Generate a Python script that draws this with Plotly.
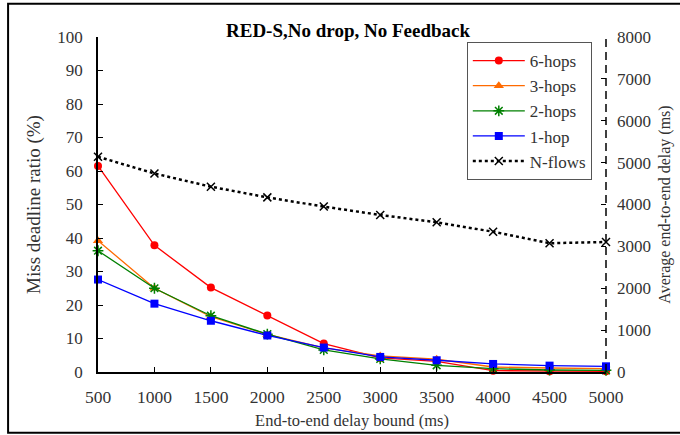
import plotly.graph_objects as go

# Delay bound (ms) on the x axis
delay_bound = [500, 1000, 1500, 2000, 2500, 3000, 3500, 4000, 4500, 5000]

# Miss deadline ratio (%) per hop count
hops6 = [61.5, 37.8, 25.2, 16.9, 8.5, 4.2, 3.2, 0.4, 0.2, 0.2]
hops3 = [39.2, 25.0, 16.5, 11.2, 7.2, 4.8, 3.8, 1.5, 1.2, 1.0]
hops2 = [36.2, 25.0, 16.8, 11.3, 6.6, 3.9, 2.0, 1.0, 0.6, 0.5]
hop1 = [27.6, 20.4, 15.3, 10.9, 7.3, 4.5, 3.5, 2.4, 1.9, 1.7]

# Average end-to-end delay (ms) for N flows, right axis
nflows = [5140, 4740, 4425, 4170, 3950, 3750, 3575, 3350, 3075, 3105]

left_ticks = list(range(0, 101, 10))
right_ticks = list(range(0, 8001, 1000))

FONT = "Liberation Serif, DejaVu Serif, serif"

fig = go.Figure()

series = [
    ("6-hops", hops6, "#FF0000", dict(symbol="circle", size=8)),
    ("3-hops", hops3, "#FF6A00", dict(symbol="triangle-up", size=9)),
    ("2-hops", hops2, "#008000", dict(symbol="asterisk-open", size=9,
                                      line=dict(width=1.5, color="#008000"))),
    ("1-hop", hop1, "#0000FF", dict(symbol="square", size=8)),
]
for name, vals, color, marker in series:
    fig.add_trace(go.Scatter(
        x=delay_bound, y=vals, name=name, mode="lines+markers",
        line=dict(color=color, width=1.3),
        marker=dict(color=color, **marker),
        cliponaxis=False,
    ))

fig.add_trace(go.Scatter(
    x=delay_bound, y=nflows, name="N-flows", mode="lines+markers", yaxis="y2",
    line=dict(color="black", width=2.5, dash="dot"),
    marker=dict(symbol="x-thin-open", size=8, color="black",
                line=dict(width=1.5, color="black")),
    cliponaxis=False,
))

axis_font = dict(family=FONT, size=17, color="#333333")

fig.update_layout(
    width=680, height=435,
    margin=dict(l=98, r=74, t=37, b=63),
    paper_bgcolor="white", plot_bgcolor="white",
    showlegend=True,
    font=dict(family=FONT, color="#222222"),
    xaxis=dict(
        range=[500, 5000], tickvals=delay_bound, ticks="inside", ticklen=5,
        tickcolor="black", showline=True, linecolor="black", linewidth=1.5,
        showgrid=False, zeroline=False, automargin=False,
        tickfont=dict(family=FONT, size=17.5, color="#333333"),
        ticklabelstandoff=8,
        title=dict(text="End-to-end delay bound (ms)", font=dict(family=FONT, size=16.5, color="#333333"),
                   standoff=9),
    ),
    yaxis=dict(
        range=[0, 100], tickvals=left_ticks, ticks="inside", ticklen=5,
        tickcolor="black", showline=True, linecolor="black", linewidth=1.5,
        showgrid=False, zeroline=False, automargin=False,
        tickfont=axis_font, ticklabelstandoff=10,
        title=dict(text="Miss deadline ratio (%)", font=dict(family=FONT, size=19, color="#333333"),
                   standoff=12),
    ),
    yaxis2=dict(
        range=[0, 8000], tickvals=right_ticks, overlaying="y", side="right",
        ticks="inside", ticklen=5, tickcolor="black", showline=False,
        showgrid=False, zeroline=False, automargin=False,
        tickfont=axis_font, ticklabelstandoff=10,
        title=dict(text="Average end-to-end delay (ms)", font=dict(family=FONT, size=16, color="#333333"),
                   standoff=8),
    ),
    legend=dict(
        x=0.726, y=0.985, xanchor="left", yanchor="top",
        bgcolor="white", bordercolor="#555555", borderwidth=1,
        font=dict(family=FONT, size=17, color="#333333"),
        tracegroupgap=0, itemwidth=52,
    ),
)

# Dashed right-hand axis line
fig.add_shape(type="line", xref="paper", yref="paper", x0=1, x1=1, y0=0, y1=1,
              line=dict(color="black", width=1.5, dash="8px,5px"))

# Chart-area border
fig.add_shape(type="rect", xref="paper", yref="paper",
              x0=-0.177, x1=1.17, y0=-0.181, y1=1.099,
              line=dict(color="black", width=2), layer="below")

fig.add_annotation(
    text="<b>RED-S,No drop, No Feedback</b>", xref="paper", yref="paper",
    x=0.492, y=1.02, xanchor="center", yanchor="middle", showarrow=False,
    font=dict(family=FONT, size=19, color="black"),
)

fig.write_html("out.html")
